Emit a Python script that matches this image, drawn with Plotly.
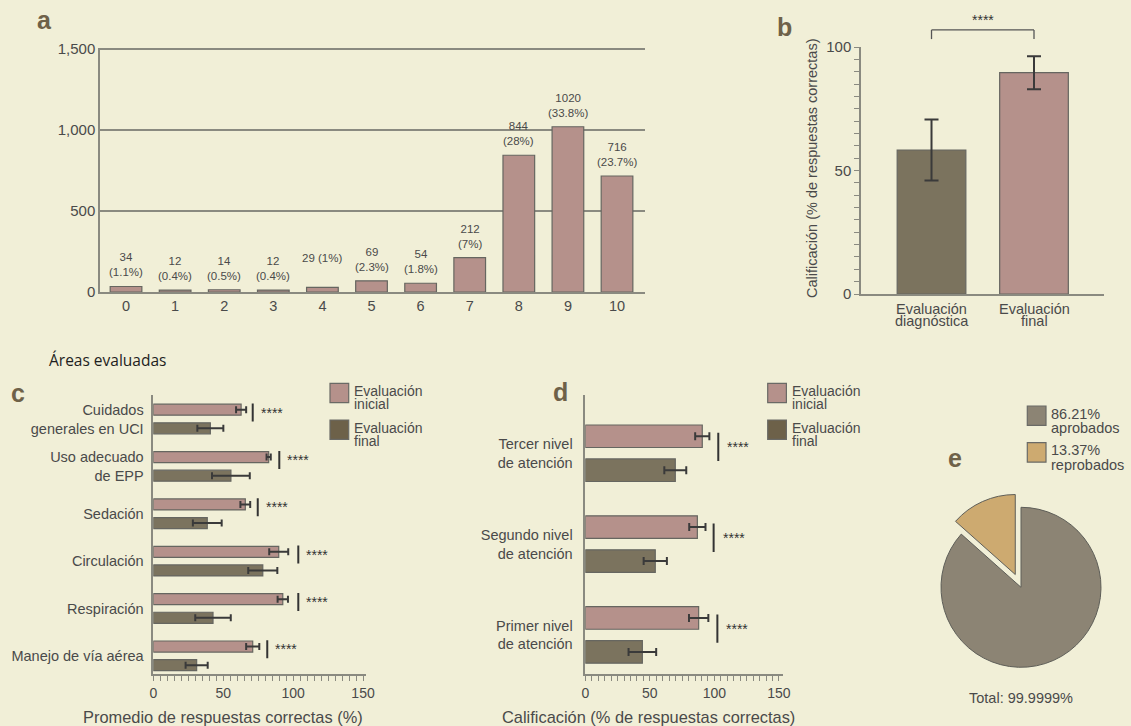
import plotly.graph_objects as go

W, H = 1131, 726
BG = "#f1efd7"
PINK = "#b5918b"
BROWN = "#7b735e"
BROWN_LEG = "#6d6149"
PIE_GRAY = "#8c8474"
PIE_TAN = "#cdaa70"
EDGE = "#666660"
ERR = "#3a3a3a"
AXIS = "#8a8a80"
TXT = "#4a4a4a"
LETTER = "#6e6148"
FONT = "Liberation Sans, Arial, sans-serif"

# ---------------- data ----------------
# panel a
scores = [0, 1, 2, 3, 4, 5, 6, 7, 8, 9, 10]
counts = [34, 12, 14, 12, 29, 69, 54, 212, 844, 1020, 716]
count_labels = ["34<br>(1.1%)", "12<br>(0.4%)", "14<br>(0.5%)", "12<br>(0.4%)", "29 (1%)<br> ",
                "69<br>(2.3%)", "54<br>(1.8%)", "212<br>(7%)", "844<br>(28%)", "1020<br>(33.8%)",
                "716<br>(23.7%)"]
a_ticks = [0, 500, 1000, 1500]
a_ticktext = ["0", "500", "1,000", "1,500"]

# panel b
b_cats = ["diag", "final"]
b_cat_lines = [["Evaluación", "diagnóstica"], ["Evaluación", "final"]]
b_vals = [58.3, 89.6]
b_err = [12.3, 6.7]
b_sig = "****"
b_title = "Calificación (% de respuestas correctas)"

# panel c
c_areas = ["Cuidados<br>generales en UCI", "Uso adecuado<br>de EPP", "Sedación",
           "Circulación", "Respiración", "Manejo de vía aérea"]
c_inicial = [62.8, 82.5, 65.8, 89.7, 92.6, 71.1]
c_inicial_err = [3.6, 1.5, 3.5, 6.8, 3.7, 4.7]
c_final = [40.8, 55.5, 38.6, 78.3, 42.7, 31.0]
c_final_err = [9.3, 13.5, 10.3, 10.4, 12.7, 7.9]
c_sig_x = [71.1, 90.1, 74.7, 103.7, 103.7, 81.5]
c_title = "Promedio de respuestas correctas (%)"

# panel d
d_levels = ["Tercer nivel<br>de atención", "Segundo nivel<br>de atención", "Primer nivel<br>de atención"]
d_inicial = [90.6, 86.8, 87.8]
d_inicial_err = [5.5, 6.3, 7.5]
d_final = [69.7, 54.2, 44.2]
d_final_err = [8.5, 9.0, 10.7]
d_sig_x = [103.0, 99.4, 102.3]
d_title = "Calificación (% de respuestas correctas)"

legend_lines = [["Evaluación", "inicial"], ["Evaluación", "final"]]

# panel e
pie_names = ["aprobados", "reprobados"]
pie_values = [86.21, 13.37]
pie_legend = [["86.21%", "aprobados"], ["13.37%", "reprobados"]]
pie_total = "Total: 99.9999%"

x_ticks_cd = [0, 50, 100, 150]


def px(x):
    return x / W


def py(y):
    return 1 - y / H


fig = go.Figure()
ann = []
shapes = []


def note(x, y, text, size=14.5, color=TXT, xanchor="center", yanchor="middle", family=FONT, **kw):
    d = dict(x=px(x), y=py(y), xref="paper", yref="paper", text=text, showarrow=False,
             xanchor=xanchor, yanchor=yanchor, font=dict(size=size, color=color, family=family))
    d.update(kw)
    ann.append(d)


# ---------------- panel a ----------------
fig.add_trace(go.Bar(x=scores, y=counts, width=0.645,
                     marker=dict(color=PINK, line=dict(color=EDGE, width=1.2)),
                     xaxis="x", yaxis="y", hoverinfo="skip"))
for s, c, lab in zip(scores, counts, count_labels):
    ann.append(dict(x=s, y=c, xref="x", yref="y", text=lab, showarrow=False, xanchor="center",
                    yanchor="bottom", yshift=6, font=dict(size=11.5, color=TXT)))
a_top = 1508  # keep the 1,500 gridline inside the range
a_px0, a_px1500 = 292, 49
a_dom_top = a_px0 - (a_px0 - a_px1500) * a_top / 1500

# ---------------- panel b ----------------
fig.add_trace(go.Bar(x=b_cats, y=b_vals, width=0.67,
                     marker=dict(color=[BROWN, PINK], line=dict(color=EDGE, width=1.2)),
                     error_y=dict(type="data", array=b_err, color=ERR, thickness=2, width=7),
                     xaxis="x2", yaxis="y2", hoverinfo="skip"))
br_lo, br_hi = 103.2, 106.9
for (x0, y0, x1, y1) in [(0, br_lo, 0, br_hi), (0, br_hi, 1, br_hi), (1, br_hi, 1, br_lo)]:
    shapes.append(dict(type="line", xref="x2", yref="y2 domain", x0=x0, x1=x1,
                       y0=y0 / 100, y1=y1 / 100, line=dict(color="#555555", width=1.3)))
ann.append(dict(x=0.5, xref="x2", y=1.108, yref="y2 domain", text=b_sig, showarrow=False,
                xanchor="center", yanchor="middle", font=dict(size=14, color="#333333")))
for i, lines in enumerate(b_cat_lines):
    for k, t in enumerate(lines):
        ann.append(dict(x=i, xref="x2", y=py(309 + 12.5 * k), yref="paper", text=t, showarrow=False,
                        xanchor="center", yanchor="middle", font=dict(size=14.5, color=TXT)))
note(812, 168, b_title, size=14.5, textangle=-90)

# ---------------- panel c ----------------
cw, c_off_p, c_off_f = 0.233, -0.313, 0.08
fig.add_trace(go.Bar(y=c_areas, x=c_inicial, orientation="h", width=cw, offset=c_off_p,
                     marker=dict(color=PINK, line=dict(color=EDGE, width=1.2)),
                     error_x=dict(type="data", array=c_inicial_err, color=ERR, thickness=2, width=3.5),
                     xaxis="x3", yaxis="y3", hoverinfo="skip"))
fig.add_trace(go.Bar(y=c_areas, x=c_final, orientation="h", width=cw, offset=c_off_f,
                     marker=dict(color=BROWN, line=dict(color=EDGE, width=1.2)),
                     error_x=dict(type="data", array=c_final_err, color=ERR, thickness=2, width=3.5),
                     xaxis="x3", yaxis="y3", hoverinfo="skip"))
for i, sx in enumerate(c_sig_x):
    shapes.append(dict(type="line", xref="x3", yref="y3", x0=sx, x1=sx, y0=i - 0.327, y1=i + 0.053,
                       line=dict(color="#333333", width=2)))
    ann.append(dict(x=sx, y=i - 0.137, xref="x3", yref="y3", text="****", showarrow=False,
                    xanchor="left", yanchor="middle", xshift=6, font=dict(size=14, color="#333333")))

# ---------------- panel d ----------------
dw, d_off_p, d_off_f = 0.248, -0.311, 0.063
fig.add_trace(go.Bar(y=d_levels, x=d_inicial, orientation="h", width=dw, offset=d_off_p,
                     marker=dict(color=PINK, line=dict(color=EDGE, width=1.2)),
                     error_x=dict(type="data", array=d_inicial_err, color=ERR, thickness=2, width=4),
                     xaxis="x4", yaxis="y4", hoverinfo="skip"))
fig.add_trace(go.Bar(y=d_levels, x=d_final, orientation="h", width=dw, offset=d_off_f,
                     marker=dict(color=BROWN, line=dict(color=EDGE, width=1.2)),
                     error_x=dict(type="data", array=d_final_err, color=ERR, thickness=2, width=4),
                     xaxis="x4", yaxis="y4", hoverinfo="skip"))
for i, sx in enumerate(d_sig_x):
    shapes.append(dict(type="line", xref="x4", yref="y4", x0=sx, x1=sx, y0=i - 0.226, y1=i + 0.086,
                       line=dict(color="#333333", width=2)))
    ann.append(dict(x=sx, y=i - 0.07, xref="x4", yref="y4", text="****", showarrow=False,
                    xanchor="left", yanchor="middle", xshift=7, font=dict(size=14, color="#333333")))

# ---------------- panel e ----------------
fig.add_trace(go.Pie(labels=pie_names, values=pie_values, sort=False, direction="clockwise",
                     rotation=0, pull=[0, 0.175], textinfo="none", hoverinfo="skip",
                     marker=dict(colors=[PIE_GRAY, PIE_TAN], line=dict(color="#5e5e58", width=1)),
                     domain=dict(x=[px(1021 - 94), px(1021 + 94)], y=[py(587.3 + 94), py(587.3 - 94)])))


# ---------------- manual legends ----------------
def legend(x_sw, tops, colors, lines_list, gap=13.0, fsize=14):
    for top, col, lines in zip(tops, colors, lines_list):
        shapes.append(dict(type="rect", xref="paper", yref="paper", x0=px(x_sw), x1=px(x_sw + 18.7),
                           y0=py(top), y1=py(top + 19.4), fillcolor=col,
                           line=dict(color="#6a6a66", width=1.2)))
        for k, t in enumerate(lines):
            note(x_sw + 22, top + 7.5 + k * gap, t, size=fsize, xanchor="left")


legend(330, [383.3, 420], [PINK, BROWN_LEG], legend_lines)
legend(767.7, [383.3, 420], [PINK, BROWN_LEG], legend_lines)
legend(1027.3, [406, 442.7], [PIE_GRAY, PIE_TAN], pie_legend, gap=14.5, fsize=14.5)

# ---------------- titles / letters ----------------
for letter, (lx, ly) in zip("abcde", [(44.5, 20), (784, 27), (17.5, 393), (560, 392), (955, 458)]):
    note(lx, ly, "<b>%s</b>" % letter, size=25, color=LETTER)
note(47, 360, "Áreas evaluadas", size=15.5, color="#1e1e1e", xanchor="left",
     family="Open Sans, sans-serif")
note(222.5, 717, c_title, size=16.4)
note(648.5, 717, d_title, size=16.4)
note(1021, 697.5, pie_total, size=14.5)

axis_common = dict(linecolor=AXIS, linewidth=1.5, zeroline=False, showgrid=False, tickcolor=AXIS,
                   automargin=False)

fig.update_layout(
    width=W, height=H, margin=dict(l=0, r=0, t=0, b=0, autoexpand=False),
    paper_bgcolor=BG, plot_bgcolor=BG, barmode="overlay", showlegend=False,
    font=dict(family=FONT, color=TXT, size=14),
    xaxis=dict(domain=[px(100), px(645)], range=[-0.53, 10.57], tickvals=scores,
               ticktext=[str(s) for s in scores], showline=True, ticks="",
               tickfont=dict(size=14.5), anchor="y", **axis_common),
    yaxis=dict(domain=[py(a_px0), py(a_dom_top)], range=[0, a_top], tickvals=a_ticks, ticktext=a_ticktext,
               showline=True, ticks="", tickfont=dict(size=15), anchor="x", automargin=False,
               linecolor=AXIS, linewidth=1.5, zeroline=False, showgrid=True, gridcolor=AXIS, gridwidth=1.5),
    xaxis2=dict(domain=[px(861), px(1104)], range=[-0.688, 1.683], showline=True, ticks="",
                showticklabels=False, anchor="y2", **axis_common),
    yaxis2=dict(domain=[py(294), py(47)], range=[0, 100], tickvals=[0, 50, 100], showline=True,
                ticks="outside", ticklen=5, tickwidth=1.2,
                minor=dict(dtick=5, ticks="outside", ticklen=5, tickcolor=AXIS, tickwidth=1.2),
                tickfont=dict(size=15), anchor="x2", **axis_common),
    xaxis3=dict(domain=[px(153.3), px(365.7)], range=[0, 151.9], tickvals=x_ticks_cd, showline=True,
                ticks="outside", ticklen=5, tickwidth=1.2,
                minor=dict(dtick=5, ticks="outside", ticklen=5, tickcolor=AXIS, tickwidth=1.2),
                tickfont=dict(size=14), anchor="y3", **axis_common),
    yaxis3=dict(domain=[py(674.3), py(395)], range=[5.39, -0.507], type="category",
                categoryorder="array", categoryarray=c_areas, showline=True, ticks="",
                ticklabelstandoff=5, tickfont=dict(size=14.5), anchor="x3", **axis_common),
    xaxis4=dict(domain=[px(585.3), px(782.7)], range=[0, 152.9], tickvals=x_ticks_cd, showline=True,
                ticks="outside", ticklen=5, tickwidth=1.2,
                minor=dict(dtick=5, ticks="outside", ticklen=5, tickcolor=AXIS, tickwidth=1.2),
                tickfont=dict(size=14), anchor="y4", **axis_common),
    yaxis4=dict(domain=[py(674.3), py(395)], range=[2.433, -0.641], type="category",
                categoryorder="array", categoryarray=d_levels, showline=True, ticks="",
                ticklabelstandoff=8, tickfont=dict(size=14.5), anchor="x4", **axis_common),
    annotations=ann, shapes=shapes,
)

fig.write_html("out.html")
